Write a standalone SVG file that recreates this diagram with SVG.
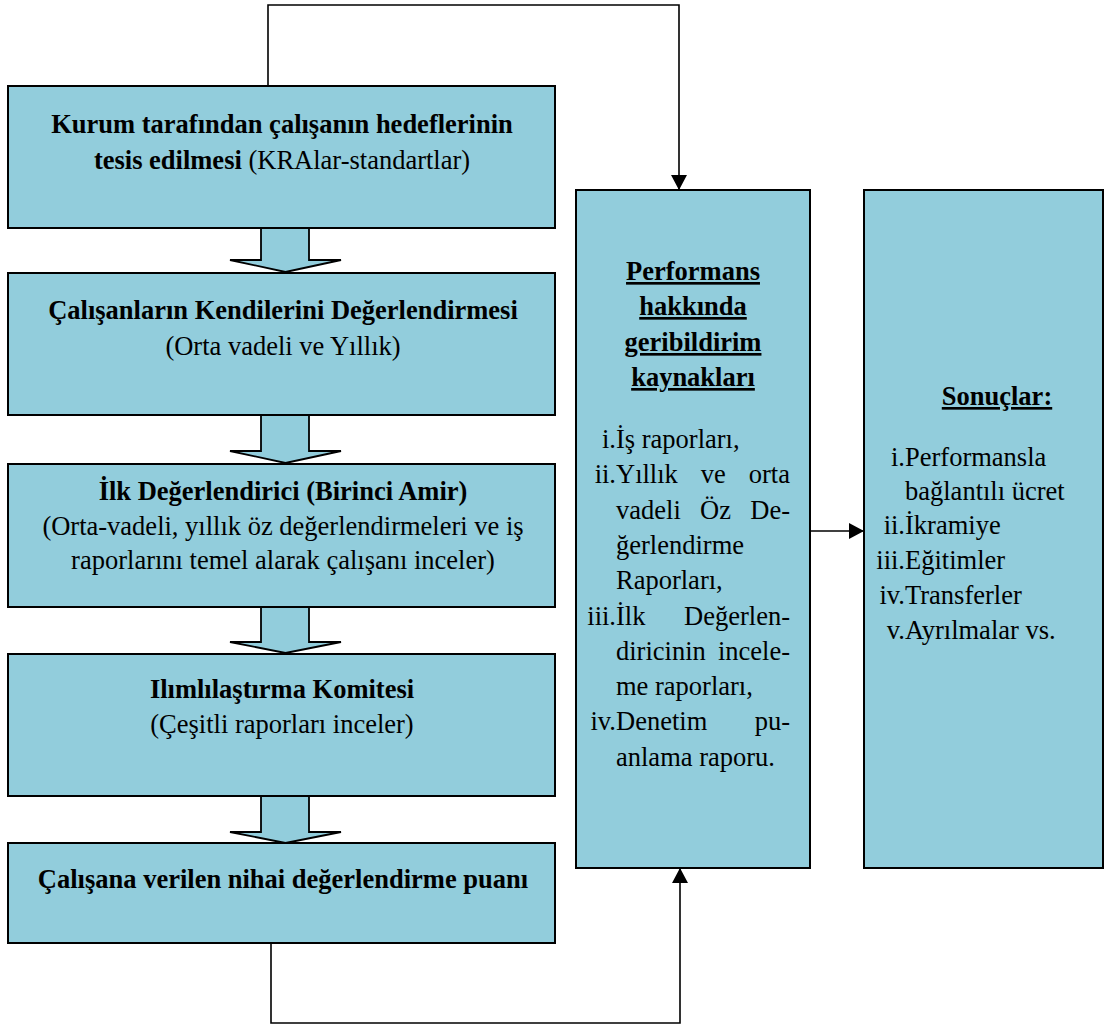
<svg xmlns="http://www.w3.org/2000/svg" width="1104" height="1025" viewBox="0 0 1104 1025">
  <style>
    .box { fill: #92CDDC; stroke: #000; stroke-width: 2; }
    .blk { fill: #92CDDC; stroke: #000; stroke-width: 1.8; stroke-linejoin: miter; }
    .wire { fill: none; stroke: #000; stroke-width: 1.6; }
    text { font-family: "Liberation Serif", "Times New Roman", serif; font-size: 26.5px; fill: #000; }
    .c { text-anchor: middle; }
    .e { text-anchor: end; }
    .b { font-weight: bold; }
    .u { font-weight: bold; text-decoration: underline; }
  </style>
  <defs>
    <marker id="ah" viewBox="0 0 15 16" refX="15" refY="8" markerWidth="15" markerHeight="16" markerUnits="userSpaceOnUse" orient="auto">
      <path d="M0,0 L15,8 L0,16 z" fill="#000"/>
    </marker>
  </defs>

  <!-- connectors -->
  <g id="connectors">
    <polyline class="wire" points="268,85 268,5 679,5 679,190" marker-end="url(#ah)"/>
    <polyline class="wire" points="271,943 271,1023 680,1023 680,868" marker-end="url(#ah)"/>
    <line class="wire" x1="810" y1="531" x2="864" y2="531" stroke-width="2" marker-end="url(#ah)"/>
    <!-- block arrows between the stacked steps -->
    <path class="blk" d="M261,228 L261,260 L230,260 L285.5,272 L341,260 L309,260 L309,228 Z"/>
    <path class="blk" d="M261,415 L261,451 L230,451 L285.5,463 L341,451 L309,451 L309,415 Z"/>
    <path class="blk" d="M261,607 L261,642 L230,642 L285.5,653 L341,642 L309,642 L309,607 Z"/>
    <path class="blk" d="M261,796 L261,832 L230,832 L285.5,843 L341,832 L309,832 L309,796 Z"/>
  </g>

  <g id="hedefler">
    <rect class="box" x="8" y="86" width="547" height="142"/>
    <text class="c b" x="282" y="133">Kurum tarafından çalışanın hedeflerinin</text>
    <text class="c" x="282" y="169"><tspan class="b">tesis edilmesi</tspan> (KRAlar-standartlar)</text>
  </g>

  <g id="oz-degerlendirme">
    <rect class="box" x="8" y="273" width="547" height="142"/>
    <text class="c b" x="283" y="319">Çalışanların Kendilerini Değerlendirmesi</text>
    <text class="c" x="283" y="355">(Orta vadeli ve Yıllık)</text>
  </g>

  <g id="ilk-degerlendirici">
    <rect class="box" x="8" y="464" width="547" height="143"/>
    <text class="c b" x="283" y="500">İlk Değerlendirici (Birinci Amir)</text>
    <text class="c" x="283" y="535">(Orta-vadeli, yıllık öz değerlendirmeleri ve iş</text>
    <text class="c" x="283" y="569">raporlarını temel alarak çalışanı inceler)</text>
  </g>

  <g id="komite">
    <rect class="box" x="8" y="654" width="547" height="142"/>
    <text class="c b" x="282" y="698">Ilımlılaştırma Komitesi</text>
    <text class="c" x="282" y="733">(Çeşitli raporları inceler)</text>
  </g>

  <g id="nihai-puan">
    <rect class="box" x="8" y="843" width="547" height="100"/>
    <text class="c b" x="283" y="888">Çalışana verilen nihai değerlendirme puanı</text>
  </g>

  <g id="geribildirim">
    <rect class="box" x="576" y="190" width="234" height="678"/>
    <text class="c u" x="693" y="280">Performans</text>
    <text class="c u" x="693" y="315">hakkında</text>
    <text class="c u" x="693" y="351">geribildirim</text>
    <text class="c u" x="693" y="386">kaynakları</text>

    <text class="e" x="616" y="448">i.</text>
    <text x="616" y="448">İş raporları,</text>

    <text class="e" x="616" y="483.3">ii.</text>
    <text x="616" y="483.3">Yıllık</text>
    <text x="700.8" y="483.3">ve</text>
    <text class="e" x="790" y="483.3">orta</text>

    <text x="616" y="518.6">vadeli</text>
    <text x="700.1" y="518.6">Öz</text>
    <text class="e" x="790" y="518.6">De-</text>

    <text x="616" y="553.9">ğerlendirme</text>
    <text x="616" y="589.2">Raporları,</text>

    <text class="e" x="616" y="624.5">iii.</text>
    <text x="616" y="624.5">İlk</text>
    <text class="e" x="790" y="624.5">Değerlen-</text>

    <text x="616" y="659.8">diricinin</text>
    <text class="e" x="790" y="659.8">incele-</text>

    <text x="616" y="695.1">me raporları,</text>

    <text class="e" x="616" y="730.4">iv.</text>
    <text x="616" y="730.4">Denetim</text>
    <text class="e" x="790" y="730.4">pu-</text>

    <text x="616" y="765.7">anlama raporu.</text>
  </g>

  <g id="sonuclar">
    <rect class="box" x="864" y="190" width="239" height="678"/>
    <text class="c u" x="997" y="405">Sonuçlar:</text>
    <text class="e" x="905" y="466">i.</text>
    <text x="905" y="466">Performansla</text>
    <text x="905" y="500">bağlantılı ücret</text>
    <text class="e" x="905" y="534">ii.</text>
    <text x="905" y="534">İkramiye</text>
    <text class="e" x="905" y="569">iii.</text>
    <text x="905" y="569">Eğitimler</text>
    <text class="e" x="905" y="604">iv.</text>
    <text x="905" y="604">Transferler</text>
    <text class="e" x="905" y="639">v.</text>
    <text x="905" y="639">Ayrılmalar vs.</text>
  </g>
</svg>
